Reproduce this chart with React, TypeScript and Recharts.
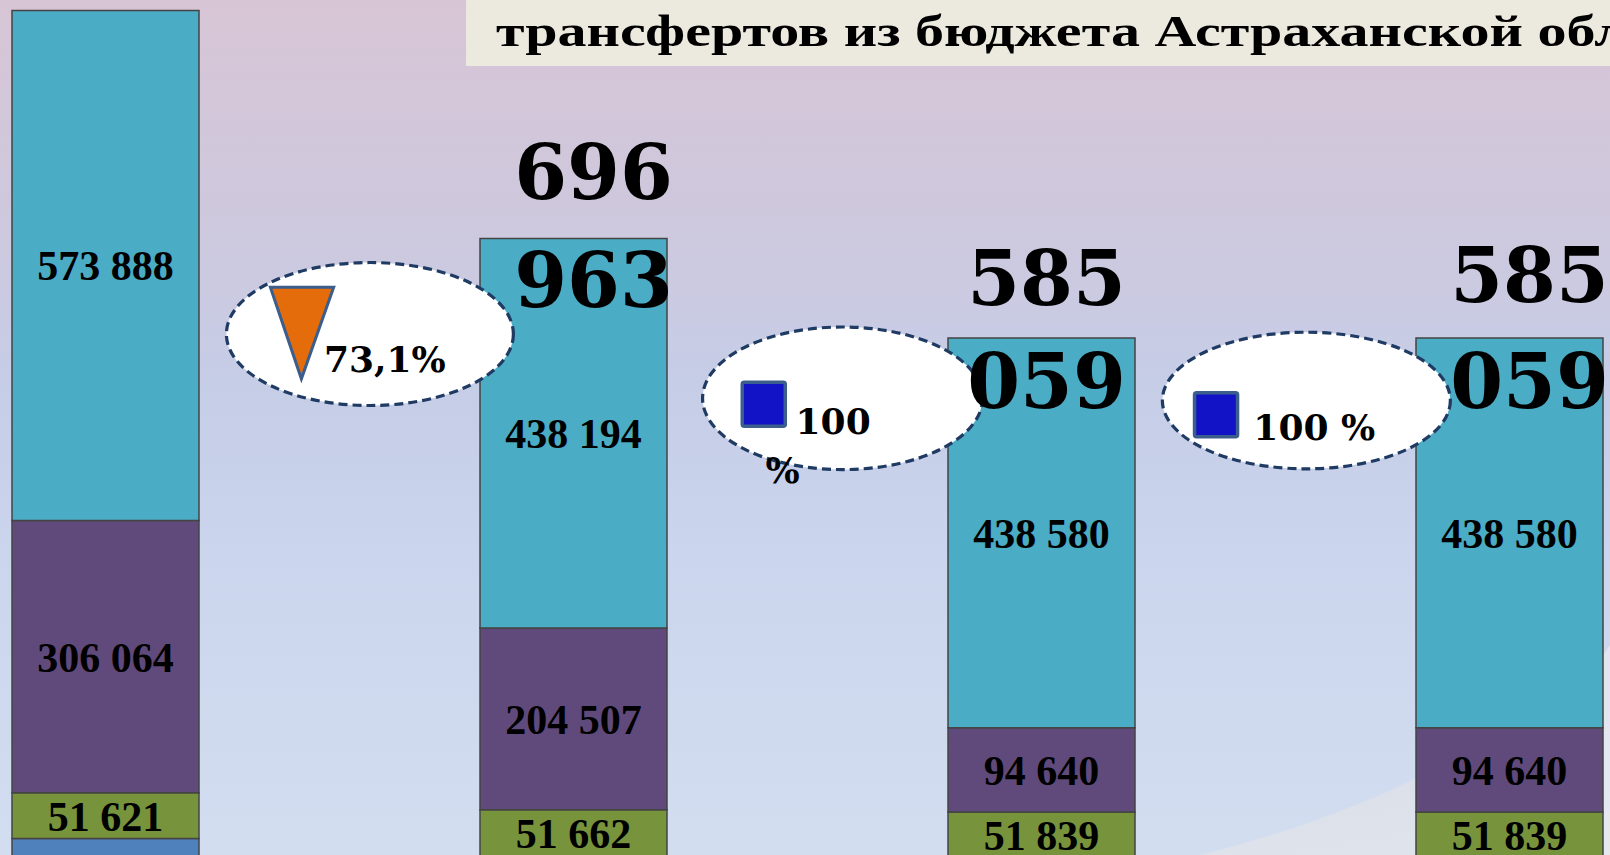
import React from 'react';
import { BarChart, Bar, XAxis, YAxis, LabelList, ReferenceDot } from 'recharts';

// ---- data (thousand roubles) ----
const categories = ['2023', '2024', '2025', '2026'];
const otherTransfers = [21865, 2600, 0, 0]; // blue, bottom segment (mostly below the frame)
const subventions = [51621, 51662, 51839, 51839]; // green
const subsidies = [306064, 204507, 94640, 94640]; // purple
const grants = [573888, 438194, 438580, 438580]; // cyan, top segment
const totals = [953438, 696963, 585059, 585059];
const changeLabels = ['73,1%', '100 %', '100 %'];
const changeKinds = ['down', 'flat', 'flat'];
const titleText = 'трансфертов из бюджета Астраханской области';

const data = categories.map((c, i) => ({
  name: c,
  blue: otherTransfers[i],
  green: subventions[i],
  purple: subsidies[i],
  cyan: grants[i],
  total: totals[i],
}));

// ---- layout / style ----
const CHART_W = 1872;
const CHART_H = 889;
const BAND = CHART_W / categories.length;
const COLORS = { cyan: '#4BACC6', purple: '#604A7B', green: '#77933C', blue: '#4F81BD' };
const BAR_STROKE = '#444444';
const totalDx = [0, 20, 5, 20];
const totalDy1 = [0, -39, -33, -36];
const totalDy2 = [0, 69, 70, 70];
// callouts sit between bar i and bar i+1: offset as a fraction of the category band
const calloutFrac = [0.566, 0.576, 0.567];
const calloutY = [589400, 517100, 514600];
const calloutGeom = [
  { rx: 143.5, ry: 71.5, tx: -46, ty: 37.5, sx: 0, sy: 0, wrap: false },
  { rx: 140, ry: 71.3, tx: -47, ty: 36, sx: -100.3, sy: -16.1, wrap: true },
  { rx: 144, ry: 68.3, tx: -53, ty: 39, sx: -111.8, sy: -7.7, wrap: false },
];

const fmt = (v: number) => String(v).replace(/\B(?=(\d{3})+(?!\d))/g, ' ');

const segLabelStyle = {
  fill: '#000',
  fontSize: 42,
  fontWeight: 700,
  fontFamily: '"Liberation Serif", "Times New Roman", serif',
};

const TotalLabel = (props: any) => {
  const { x, y, width, value, index } = props;
  if (index === 0) return null; // first total sits above the visible frame in the source
  const parts = fmt(Number(value)).split(' ');
  const cx = Number(x) + Number(width) / 2 + totalDx[index];
  const style = { fontFamily: '"DejaVu Serif", serif', fontWeight: 700, fontSize: 76, fill: '#000' };
  return (
    <g>
      <text x={cx} y={Number(y) + totalDy1[index]} textAnchor="middle" style={style}>{parts[0]}</text>
      <text x={cx} y={Number(y) + totalDy2[index]} textAnchor="middle" style={style}>{parts[1]}</text>
    </g>
  );
};

const Callout = ({ cx, cy, idx }: { cx: number; cy: number; idx: number }) => {
  const g = calloutGeom[idx];
  const txt = { fontFamily: '"DejaVu Serif", serif', fontWeight: 700, fontSize: 36, fill: '#000' };
  const label = changeLabels[idx];
  return (
    <g>
      <ellipse cx={cx} cy={cy} rx={g.rx} ry={g.ry} fill="#FFFFFF" stroke="#1F3B63" strokeWidth={3.2} strokeDasharray="9 5" />
      {changeKinds[idx] === 'down' ? (
        <polygon
          points={`${cx - 99.5},${cy - 46.8} ${cx - 36.2},${cy - 46.8} ${cx - 68.5},${cy + 44.8}`}
          fill="#E46C0A"
          stroke="#3C5E8C"
          strokeWidth={3}
        />
      ) : (
        <rect x={cx + g.sx} y={cy + g.sy} width={43} height={44} fill="#1212C6" stroke="#3C5E8C" strokeWidth={3.5} rx={2} />
      )}
      {g.wrap ? (
        <g>
          <text x={cx + g.tx} y={cy + g.ty} style={txt}>{label.split(' ')[0]}</text>
          <text x={cx - 77} y={cy + 85} style={txt}>{label.split(' ')[1]}</text>
        </g>
      ) : (
        <text x={cx + g.tx} y={cy + g.ty} style={txt}>{label}</text>
      )}
    </g>
  );
};

export default function App() {
  return (
    <div
      style={{
        position: 'fixed',
        left: 0,
        top: 0,
        width: 1610,
        height: 855,
        overflow: 'hidden',
        background: 'linear-gradient(180deg, #D7C5D5 0%, #CEC8DD 25%, #C6CDE7 45%, #CCD7EE 70%, #D2DDF0 100%)',
      }}
    >
      <svg width={1610} height={855} style={{ position: 'absolute', left: 0, top: 0 }}>
        <defs>
          <linearGradient id="sw" x1="0" y1="0" x2="0.3" y2="1">
            <stop offset="0" stopColor="#B8BECC" />
            <stop offset="0.15" stopColor="#D3D8E3" />
            <stop offset="1" stopColor="#DEE3EC" />
          </linearGradient>
        </defs>
        <path d="M1200,855 Q1460,790 1610,645 L1610,855 Z" fill="url(#sw)" />
        <path d="M1560,700 Q1595,670 1610,645 L1610,855 L1600,855 Q1590,760 1560,700 Z" fill="#E6E9F0" opacity={0.8} />
      </svg>
      <div style={{ position: 'absolute', left: -129.5, top: -31.5 }}>
        <BarChart width={CHART_W} height={CHART_H} data={data} margin={{ top: 0, right: 0, bottom: 0, left: 0 }}>
          <XAxis dataKey="name" hide />
          <YAxis domain={[0, 1000000]} allowDataOverflow hide />
          <Bar dataKey="blue" stackId="a" fill={COLORS.blue} stroke={BAR_STROKE} strokeWidth={1.5} barSize={187} isAnimationActive={false} />
          <Bar dataKey="green" stackId="a" fill={COLORS.green} stroke={BAR_STROKE} strokeWidth={1.5} barSize={187} isAnimationActive={false}>
            <LabelList dataKey="green" position="center" formatter={(v: any) => fmt(Number(v))} style={segLabelStyle} />
          </Bar>
          <Bar dataKey="purple" stackId="a" fill={COLORS.purple} stroke={BAR_STROKE} strokeWidth={1.5} barSize={187} isAnimationActive={false}>
            <LabelList dataKey="purple" position="center" formatter={(v: any) => fmt(Number(v))} style={segLabelStyle} />
          </Bar>
          <Bar dataKey="cyan" stackId="a" fill={COLORS.cyan} stroke={BAR_STROKE} strokeWidth={1.5} barSize={187} isAnimationActive={false}>
            <LabelList dataKey="cyan" position="center" formatter={(v: any) => fmt(Number(v))} style={segLabelStyle} />
            <LabelList dataKey="total" content={TotalLabel} />
          </Bar>
          {calloutFrac.map((f, i) => (
            <ReferenceDot
              key={i}
              x={categories[i]}
              y={calloutY[i]}
              ifOverflow="visible"
              shape={(p: any) => <Callout cx={p.cx + f * BAND} cy={p.cy} idx={i} />}
            />
          ))}
        </BarChart>
      </div>
      <svg width={1610} height={80} style={{ position: 'absolute', left: 0, top: 0 }}>
        <rect x={466} y={0} width={1200} height={66} fill="#ECEADF" />
        <text
          transform="translate(496,46) scale(1.32,1)"
          x={0}
          y={0}
          style={{ fontFamily: '"Liberation Serif", "Times New Roman", serif', fontWeight: 700, fontSize: 44, fill: '#000' }}
        >
          {titleText}
        </text>
      </svg>
    </div>
  );
}
